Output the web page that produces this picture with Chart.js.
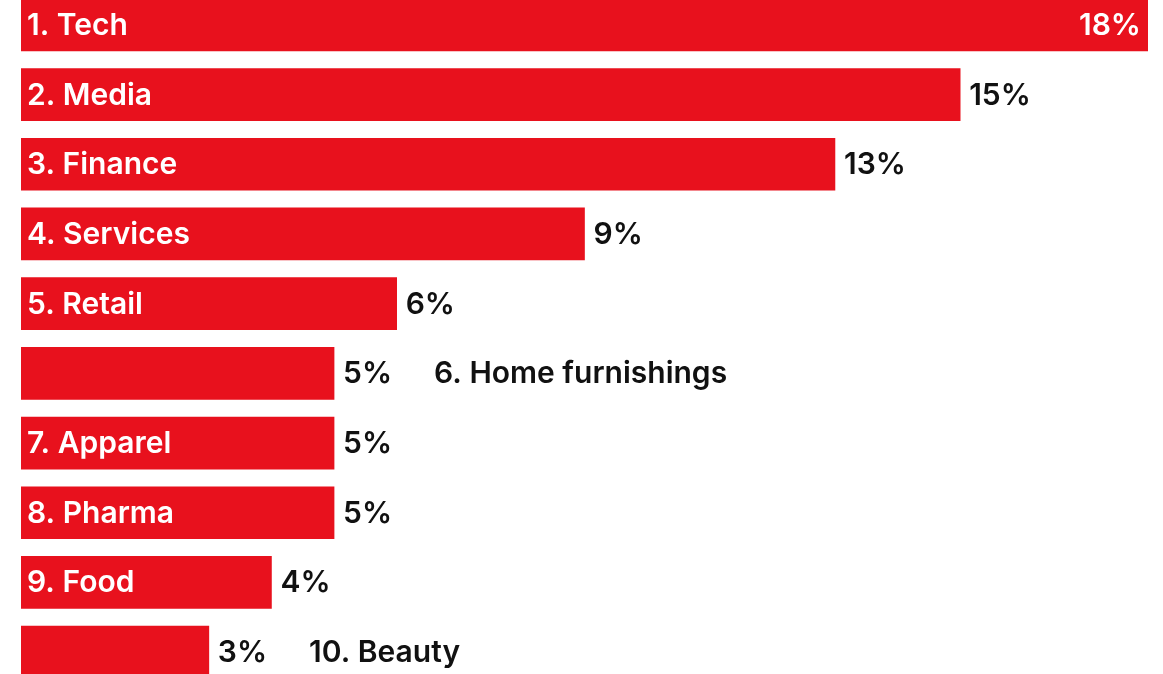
<!DOCTYPE html>
<html lang="en">
<head>
  <meta charset="UTF-8" />
  <title>Top industries</title>
  <script src="https://cdn.jsdelivr.net/npm/chart.js"></script>
  <style>
    html, body { margin: 0; padding: 0; background: #fff; overflow: hidden; }
    #wrap { position: absolute; left: 0; top: -10px; width: 1163px; height: 697px; }
  </style>
</head>
<body>
  <div id="wrap"><canvas id="chart"></canvas></div>

  <script>
    const categories = ['1. Tech', '2. Media', '3. Finance', '4. Services', '5. Retail',
      '6. Home furnishings', '7. Apparel', '8. Pharma', '9. Food', '10. Beauty'];
    const shares = [18, 15, 13, 9, 6, 5, 5, 5, 4, 3];

    const RED = '#e8111d';
    const FONT = '600 30px Inter, "Noto Sans", sans-serif';

    // draws category names and percentages next to / inside the bars
    const barLabels = {
      id: 'barLabels',
      afterDatasetsDraw(chart) {
        const ctx = chart.ctx;
        const area = chart.chartArea;
        const meta = chart.getDatasetMeta(0);
        ctx.save();
        ctx.font = FONT;
        ctx.textBaseline = 'middle';
        meta.data.forEach((bar, i) => {
          const name = categories[i];
          const pct = shares[i] + '%';
          const left = bar.base;
          const right = bar.x;
          const y = bar.y + 1;
          const nameW = ctx.measureText(name).width;
          const pctW = ctx.measureText(pct).width;

          let pctEnd;
          if (right + 10 + pctW > area.right) {
            ctx.fillStyle = '#fff';
            ctx.textAlign = 'right';
            ctx.fillText(pct, right - 7, y);
            pctEnd = right;
          } else {
            ctx.fillStyle = '#111';
            ctx.textAlign = 'left';
            ctx.fillText(pct, right + 9, y);
            pctEnd = right + 9 + pctW;
          }

          ctx.textAlign = 'left';
          if (nameW + 50 < right - left) {
            ctx.fillStyle = '#fff';
            ctx.fillText(name, left + 6, y);
          } else {
            ctx.fillStyle = '#111';
            ctx.fillText(name, pctEnd + 42, y);
          }
        });
        ctx.restore();
      }
    };

    new Chart(document.getElementById('chart'), {
      type: 'bar',
      data: {
        labels: categories,
        datasets: [{
          data: shares,
          backgroundColor: RED,
          borderWidth: 0,
          barThickness: 52
        }]
      },
      options: {
        indexAxis: 'y',
        responsive: true,
        maintainAspectRatio: false,
        animation: false,
        layout: { padding: { left: 21, right: 15, top: 0, bottom: 0 } },
        plugins: {
          legend: { display: false },
          tooltip: { enabled: false }
        },
        scales: {
          x: { display: false, min: 0, max: 18 },
          y: { display: false }
        }
      },
      plugins: [barLabels]
    });
  </script>
</body>
</html>
